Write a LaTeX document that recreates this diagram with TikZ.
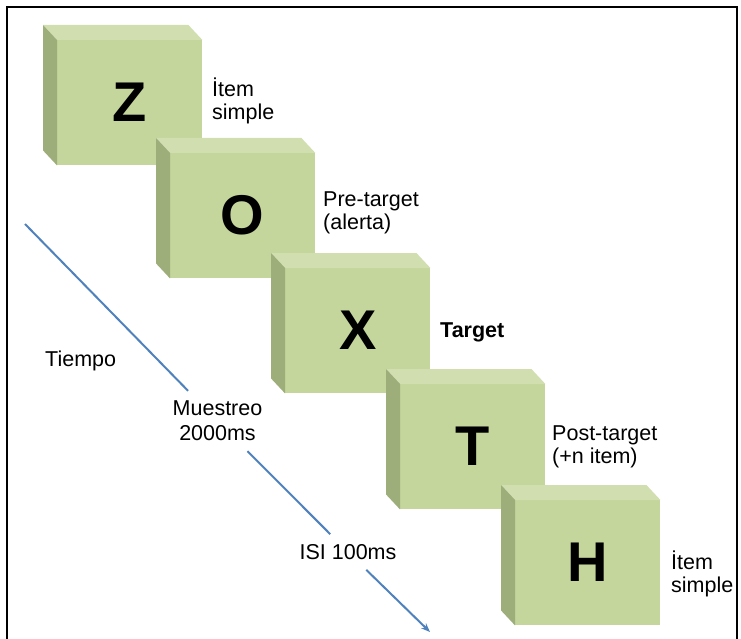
\documentclass[tikz,border=0pt]{standalone}
\usepackage{fontspec}
\setmainfont{Liberation Sans}
\usetikzlibrary{arrows.meta}

\definecolor{faceFront}{RGB}{196,214,156}
\definecolor{faceTop}{RGB}{208,222,176}
\definecolor{faceSide}{RGB}{157,174,123}
\definecolor{timeBlue}{RGB}{79,129,189}

% top and left faces of a card whose front face is the node #1
\newcommand\cardfaces[1]{%
  \fill[faceTop] (#1.north west) -- (#1.north east)
    -- ([shift={(-14,-15)}]#1.north east) -- ([shift={(-14,-15)}]#1.north west) -- cycle;
  \fill[faceSide] (#1.north west) -- ([shift={(-14,-15)}]#1.north west)
    -- ([shift={(-14,-15)}]#1.south west) -- (#1.south west) -- cycle;
}

\begin{document}
\begin{tikzpicture}[x=1pt,y=-1pt,
  card/.style={rectangle, fill=faceFront, minimum width=145pt, minimum height=125pt,
    inner sep=0pt, anchor=north west, font=\fontsize{56}{56}\selectfont\bfseries},
  lbl/.style={anchor=base west, inner sep=0pt, align=left,
    font=\fontsize{21.5}{23}\selectfont},
  timelbl/.style={fill=white, inner xsep=3pt, inner ysep=10pt, align=center,
    font=\fontsize{21.5}{25}\selectfont},
  timeline/.style={draw=timeBlue, line width=2pt, -{Stealth[length=9pt,width=7pt]}}
]
\useasboundingbox (0,0) rectangle (741,639);
\draw[line width=2.5pt] (7,7) rectangle (737,660);

% stimulus cards
\node[card] (cz) at (57,40) {Z};   \cardfaces{cz}
\node[card] (co) at (170,153) {O}; \cardfaces{co}
\node[card] (cx) at (285,268) {X}; \cardfaces{cx}
\node[card] (ct) at (400,384) {T}; \cardfaces{ct}
\node[card] (ch) at (515,500) {H}; \cardfaces{ch}

% card labels (base anchor sits on the last line)
\node[lbl] (lz) at (212,120) {İtem\\simple};
\node[lbl] (lo) at (323,229) {Pre-target\\(alerta)};
\node[lbl, font=\fontsize{21.5}{23}\selectfont\bfseries] (lx) at (440,337) {Target};
\node[lbl] (lt) at (552,463) {Post-target\\(+n item)};
\node[lbl] (lh) at (671,592) {İtem\\simple};

% time axis
\node[lbl] (tiempo) at (45,366) {Tiempo};
\coordinate (tstart) at (25,224);
\coordinate (tend) at (430,632);
\node[timelbl] (mues) at (217.5,421) {Muestreo\\2000ms};
\node[timelbl] (isi) at (348,552) {ISI 100ms};
\draw[timeline] (tstart) -- (mues) -- (isi) -- (tend);
\end{tikzpicture}
\end{document}
